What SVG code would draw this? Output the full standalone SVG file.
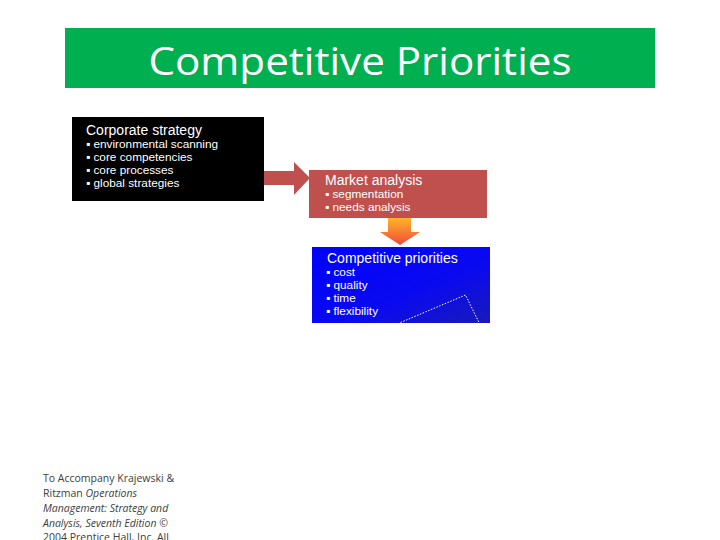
<svg xmlns="http://www.w3.org/2000/svg" width="720" height="540" viewBox="0 0 720 540">
<defs>
<style>
.t{font-family:"Liberation Sans",Arial,sans-serif;fill:#fff}
.h{font-size:14px}
.b{font-size:11.8px}
.f{font-family:"Open Sans","Noto Sans",sans-serif;font-size:10.5px;fill:#404040}
</style>
<linearGradient id="og" x1="0" y1="0" x2="0" y2="1">
<stop offset="0" stop-color="#ffb428"/>
<stop offset="1" stop-color="#f04a3c"/>
</linearGradient>
<linearGradient id="bg" x1="0" y1="0" x2="1" y2="1">
<stop offset="0" stop-color="#0000ff"/>
<stop offset="0.6" stop-color="#0a0af0"/>
<stop offset="1" stop-color="#1a1ab8"/>
</linearGradient>
</defs>
<rect width="720" height="540" fill="#fff"/>
<g id="title">
<rect x="65" y="28" width="590" height="60" fill="#00b050"/>
<text x="360" y="75" text-anchor="middle" font-family="'Open Sans','Noto Sans',sans-serif" font-size="39" fill="#fff" textLength="423" lengthAdjust="spacingAndGlyphs">Competitive Priorities</text>
</g>
<g id="connectors">
<path d="M264,171 H294 V162 L310,178 L294,195 V185 H264 Z" fill="#c0504d"/>
<path d="M388,218 H411 V232 H420 L400,245 L380,232 H388 Z" fill="url(#og)"/>
</g>
<g id="corporate">
<rect x="72" y="117" width="192" height="84" fill="#000"/>
<text class="t h" x="86" y="134.5">Corporate strategy</text>
<text class="t b" x="86" y="148">▪ environmental scanning</text>
<text class="t b" x="86" y="161">▪ core competencies</text>
<text class="t b" x="86" y="174">▪ core processes</text>
<text class="t b" x="86" y="187">▪ global strategies</text>
</g>
<g id="market">
<rect x="309" y="170" width="178" height="48" fill="#c0504d"/>
<text class="t h" x="325" y="185">Market analysis</text>
<text class="t b" x="325" y="198">▪ segmentation</text>
<text class="t b" x="325" y="211">▪ needs analysis</text>
</g>
<g id="priorities">
<rect x="312" y="247" width="178" height="76" fill="url(#bg)"/>
<text class="t h" x="327" y="262.5">Competitive priorities</text>
<text class="t b" x="326" y="276">▪ cost</text>
<text class="t b" x="326" y="289">▪ quality</text>
<text class="t b" x="326" y="302">▪ time</text>
<text class="t b" x="326" y="315">▪ flexibility</text>
<polyline points="400.5,322.5 465.5,295 479,322.5" fill="none" stroke="#fff" stroke-width="1" stroke-dasharray="1.5,1.5"/>
</g>
<g id="footer">
<text class="f" x="43" y="482">To Accompany Krajewski &amp;</text>
<text class="f" x="43" y="497">Ritzman <tspan font-style="italic">Operations</tspan></text>
<text class="f" x="43" y="512" font-style="italic">Management: Strategy and</text>
<text class="f" x="43" y="527"><tspan font-style="italic">Analysis, Seventh Edition</tspan> ©</text>
<text class="f" x="43" y="541">2004 Prentice Hall, Inc. All</text>
</g>
</svg>
